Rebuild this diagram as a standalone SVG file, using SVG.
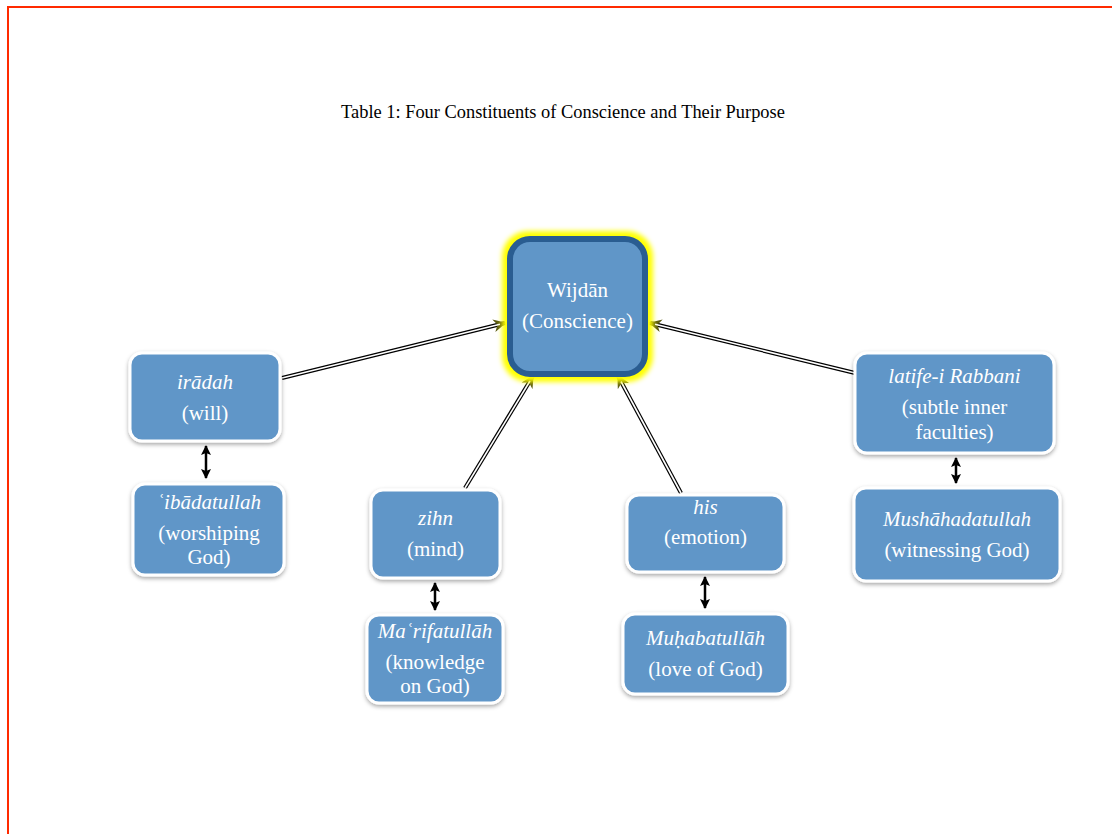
<svg xmlns="http://www.w3.org/2000/svg" width="1112" height="834" viewBox="0 0 1112 834">
<defs>
<filter id="sh" x="-20%" y="-20%" width="140%" height="150%">
<feDropShadow dx="0" dy="2" stdDeviation="2" flood-color="#000" flood-opacity="0.35"/>
</filter>
<filter id="glow" x="-20%" y="-20%" width="140%" height="140%">
<feGaussianBlur stdDeviation="2.5"/>
</filter>
<marker id="ah" viewBox="0 0 10 10" refX="9" refY="5" markerWidth="3.2" markerHeight="3.2" orient="auto" markerUnits="strokeWidth">
<path d="M0,0 L10,5 L0,10 L3,5 Z" fill="#5a5a10"/>
</marker>
<marker id="bh" viewBox="0 0 10 10" refX="9" refY="5" markerWidth="4" markerHeight="4" orient="auto-start-reverse" markerUnits="strokeWidth">
<path d="M0,0 L10,5 L0,10 L2,5 Z" fill="#000"/>
</marker>
</defs>
<style>
.box{fill:#6096c8;stroke:#fff;stroke-width:3;filter:url(#sh)}
.t{font-family:"Liberation Serif","Times New Roman",serif;font-size:21px;fill:#fff;text-anchor:middle}
.i{font-style:italic}
.dl{stroke:#000;stroke-width:4;fill:none}
.dw{stroke:#fff;stroke-width:1.6;fill:none}
.va{stroke:#000;stroke-width:2.5;fill:none}
</style>
<rect x="0" y="0" width="1112" height="834" fill="#fff"/>
<path d="M8,834 L8,7 L1112,7" fill="none" stroke="#ff2a00" stroke-width="2"/>
<text x="563" y="118" font-family="Liberation Serif,'Times New Roman',serif" font-size="18.4" text-anchor="middle" fill="#000">Table 1: Four Constituents of Conscience and Their Purpose</text>

<g id="connectors">
<line class="dl" x1="282" y1="378" x2="505" y2="323" marker-end="url(#ah)"/>
<line class="dw" x1="282" y1="378" x2="500" y2="324.2"/>
<line class="dl" x1="855" y1="373" x2="650" y2="323" marker-end="url(#ah)"/>
<line class="dw" x1="855" y1="373" x2="655" y2="324.2"/>
<line class="dl" x1="465" y1="488" x2="533" y2="376" marker-end="url(#ah)"/>
<line class="dw" x1="465" y1="488" x2="530" y2="381"/>
<line class="dl" x1="681" y1="493" x2="618" y2="376" marker-end="url(#ah)"/>
<line class="dw" x1="681" y1="493" x2="621" y2="381.5"/>
<line class="va" x1="206" y1="446" x2="206" y2="478" marker-start="url(#bh)" marker-end="url(#bh)"/>
<line class="va" x1="435" y1="583" x2="435" y2="610" marker-start="url(#bh)" marker-end="url(#bh)"/>
<line class="va" x1="705" y1="577" x2="705" y2="608" marker-start="url(#bh)" marker-end="url(#bh)"/>
<line class="va" x1="956" y1="458" x2="956" y2="483" marker-start="url(#bh)" marker-end="url(#bh)"/>
</g>

<g id="wijdan">
<rect x="502" y="231" width="151" height="151" rx="26" fill="#ffff00" filter="url(#glow)"/>
<rect x="510" y="239" width="135" height="135" rx="20" fill="#6096c8" stroke="#2a5d91" stroke-width="6"/>
<text class="t" x="577.5" y="297">Wijdān</text>
<text class="t" x="577.5" y="328">(Conscience)</text>
</g>

<g id="iradah">
<rect class="box" x="130" y="353" width="150" height="88" rx="12"/>
<text class="t i" x="205" y="389">irādah</text>
<text class="t" x="205" y="420">(will)</text>
</g>

<g id="ibadatullah">
<rect class="box" x="133" y="484" width="151" height="91" rx="12"/>
<text class="t i" x="209" y="509">ʿibādatullah</text>
<text class="t" x="209" y="540">(worshiping</text>
<text class="t" x="209" y="564">God)</text>
</g>

<g id="zihn">
<rect class="box" x="371" y="490" width="129" height="88" rx="12"/>
<text class="t i" x="435.5" y="525">zihn</text>
<text class="t" x="435.5" y="556">(mind)</text>
</g>

<g id="marifatullah">
<rect class="box" x="367" y="615" width="136" height="88" rx="12"/>
<text class="t i" x="435" y="638">Maʿrifatullāh</text>
<text class="t" x="435" y="669">(knowledge</text>
<text class="t" x="435" y="693">on God)</text>
</g>

<g id="his">
<rect class="box" x="627" y="495" width="157" height="77" rx="12"/>
<text class="t i" x="705.5" y="514">his</text>
<text class="t" x="705.5" y="544">(emotion)</text>
</g>

<g id="muhabatullah">
<rect class="box" x="623" y="614" width="165" height="80" rx="12"/>
<text class="t i" x="705.5" y="645">Muḥabatullāh</text>
<text class="t" x="705.5" y="676">(love of God)</text>
</g>

<g id="latife">
<rect class="box" x="855" y="353" width="199" height="100" rx="12"/>
<text class="t i" x="954.5" y="383">latife-i Rabbani</text>
<text class="t" x="954.5" y="414">(subtle inner</text>
<text class="t" x="954.5" y="439">faculties)</text>
</g>

<g id="mushahadatullah">
<rect class="box" x="854" y="488" width="206" height="93" rx="12"/>
<text class="t i" x="957" y="526">Mushāhadatullah</text>
<text class="t" x="957" y="557">(witnessing God)</text>
</g>
</svg>
